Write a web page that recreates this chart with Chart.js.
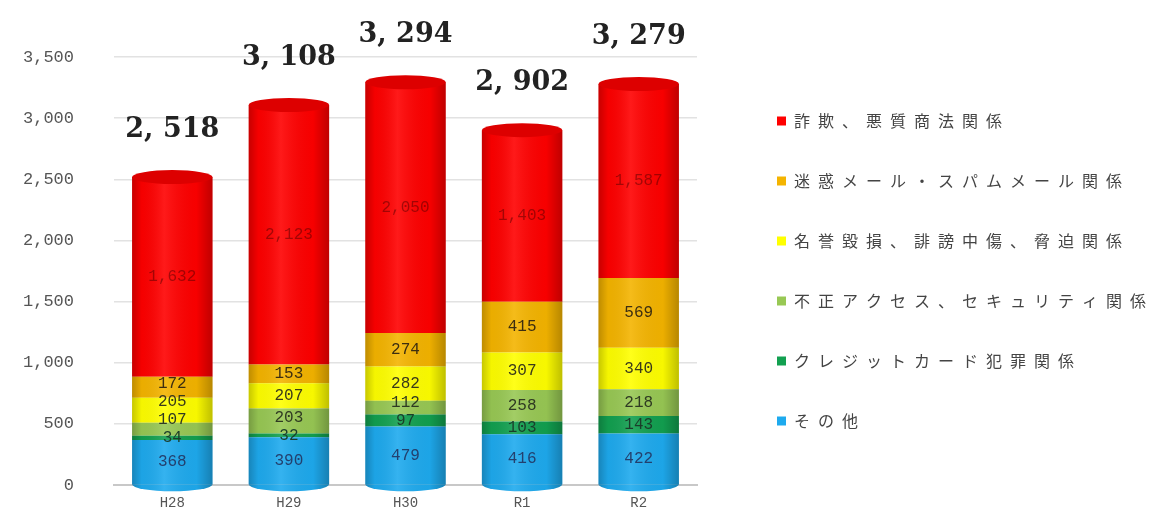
<!DOCTYPE html>
<html>
<head>
<meta charset="utf-8">
<script src="https://cdn.jsdelivr.net/npm/chart.js@4.4.1/dist/chart.umd.min.js"></script>
<style>
  html, body { margin: 0; padding: 0; background: #fff; }
  #wrap { width: 1169px; height: 517px; }
</style>
</head>
<body>
<div id="wrap"><canvas id="chart"></canvas></div>
<script>
// categories and series (bottom to top of each stack)
const years = ['H28', 'H29', 'H30', 'R1', 'R2'];
const sonota  = [368, 390, 479, 416, 422];     // その他
const credit  = [34, 32, 97, 103, 143];        // クレジットカード犯罪関係
const fusei   = [107, 203, 112, 258, 218];     // 不正アクセス、セキュリティ関係
const meiyo   = [205, 207, 282, 307, 340];     // 名誉毀損、誹謗中傷、脅迫関係
const meiwaku = [172, 153, 274, 415, 569];     // 迷惑メール・スパムメール関係
const sagi    = [1632, 2123, 2050, 1403, 1587]; // 詐欺、悪質商法関係
const yTicks  = [0, 500, 1000, 1500, 2000, 2500, 3000, 3500];

const series = [
  { label: 'その他', data: sonota, color: '#1eaaee', text: '#23406e' },
  { label: 'クレジットカード犯罪関係', data: credit, color: '#12a050', text: '#1b3d2a' },
  { label: '不正アクセス、セキュリティ関係', data: fusei, color: '#98c854', text: '#2f3a22' },
  { label: '名誉毀損、誹謗中傷、脅迫関係', data: meiyo, color: '#ffff00', text: '#3a3a1a' },
  { label: '迷惑メール・スパムメール関係', data: meiwaku, color: '#f4b400', text: '#3d2e10' },
  { label: '詐欺、悪質商法関係', data: sagi, color: '#ff0000', text: 'rgba(80,0,0,0.5)' }
];

const totals = years.map((y, i) => series.reduce((s, d) => s + d.data[i], 0));

function fmt(v) {
  return v.toString().replace(/\B(?=(\d{3})+(?!\d))/g, ',');
}

// legend: wide letter spacing like the original, box wide enough for it
const legendStyle = {
  id: 'legendStyle',
  beforeUpdate(chart) {
    const lg = chart.legend;
    if (!lg || lg._styled) return;
    const fit = lg.fit.bind(lg);
    lg.fit = function () {
      fit();
      this.width = 440;
    };
    const draw = lg.draw.bind(lg);
    lg.draw = function () {
      const ctx = chart.ctx;
      ctx.save();
      ctx.translate(36, -16);
      ctx.letterSpacing = '8px';
      draw();
      ctx.restore();
    };
    lg._styled = true;
  }
};

const cylinder = {
  id: 'cylinder',
  afterDatasetsDraw(chart) {
    const ctx = chart.ctx;
    const n = chart.data.datasets.length;
    years.forEach((yr, i) => {
      const bot = chart.getDatasetMeta(0).data[i];
      const top = chart.getDatasetMeta(n - 1).data[i];
      const w = bot.width, left = bot.x - w / 2, rx = w / 2, ry = 7;
      ctx.save();
      // rounded bottom
      ctx.fillStyle = series[0].color;
      ctx.beginPath();
      ctx.ellipse(bot.x, bot.base, rx, ry, 0, 0, Math.PI);
      ctx.fill();
      // side shading
      const g = ctx.createLinearGradient(left, 0, left + w, 0);
      g.addColorStop(0, 'rgba(0,0,0,0.22)');
      g.addColorStop(0.12, 'rgba(0,0,0,0.04)');
      g.addColorStop(0.4, 'rgba(255,255,255,0.10)');
      g.addColorStop(0.8, 'rgba(0,0,0,0.03)');
      g.addColorStop(1, 'rgba(0,0,0,0.25)');
      ctx.fillStyle = g;
      ctx.beginPath();
      ctx.moveTo(left, top.y);
      ctx.lineTo(left, bot.base);
      ctx.ellipse(bot.x, bot.base, rx, ry, 0, Math.PI, 0, true);
      ctx.lineTo(left + w, top.y);
      ctx.closePath();
      ctx.fill();
      // top cap
      ctx.fillStyle = '#dd0000';
      ctx.beginPath();
      ctx.ellipse(top.x, top.y, rx, ry, 0, 0, Math.PI * 2);
      ctx.fill();
      ctx.restore();
    });
  }
};

const labels = {
  id: 'labels',
  afterDatasetsDraw(chart) {
    const ctx = chart.ctx;
    const n = chart.data.datasets.length;
    ctx.save();
    ctx.textAlign = 'center';
    ctx.textBaseline = 'middle';
    years.forEach((yr, i) => {
      // segment values, pushed apart where segments are thin
      let prev = null;
      for (let d = 0; d < n - 1; d++) {
        const el = chart.getDatasetMeta(d).data[i];
        let y = (el.y + el.base) / 2;
        if (prev !== null && y > prev - 18) y = prev - 18;
        prev = y;
        ctx.font = '16px "Liberation Mono"';
        ctx.fillStyle = series[d].text;
        ctx.fillText(fmt(series[d].data[i]), el.x, y);
      }
      const topEl = chart.getDatasetMeta(n - 1).data[i];
      ctx.font = '16px "Liberation Mono"';
      ctx.fillStyle = series[n - 1].text;
      ctx.fillText(fmt(series[n - 1].data[i]), topEl.x, (topEl.y + topEl.base) / 2);
      // total above the cylinder
      ctx.font = 'bold 27px "DejaVu Serif"';
      ctx.fillStyle = '#222';
      ctx.fillText(fmt(totals[i]).replace(',', ', '), topEl.x, topEl.y - 47);
    });
    ctx.restore();
  }
};

new Chart(document.getElementById('chart'), {
  type: 'bar',
  data: {
    labels: years,
    datasets: series.map(s => ({
      label: s.label,
      data: s.data,
      backgroundColor: s.color,
      borderWidth: 0,
      barPercentage: 0.69,
      categoryPercentage: 1
    }))
  },
  options: {
    responsive: true,
    maintainAspectRatio: false,
    animation: false,
    layout: { padding: { top: 57, left: 0, right: 32, bottom: 0 } },
    plugins: {
      tooltip: { enabled: false },
      legend: {
        position: 'right',
        reverse: true,
        labels: {
          boxWidth: 9,
          boxHeight: 9,
          padding: 44,
          color: '#444',
          font: { size: 16, family: '"Noto Sans CJK JP"' }
        }
      }
    },
    scales: {
      x: {
        stacked: true,
        grid: { display: false, drawTicks: false },
        border: { color: '#c8c8c8', width: 2 },
        afterFit: scale => { scale.height = 32; },
        ticks: { color: '#555', padding: 10, font: { size: 14, family: '"Liberation Mono"' } }
      },
      y: {
        stacked: true,
        min: 0,
        max: 3500,
        afterBuildTicks: axis => { axis.ticks = yTicks.map(v => ({ value: v })); },
        afterFit: scale => {
          scale.width = 114;
          scale.paddingTop = 10;
          scale.paddingBottom = 10;
        },
        grid: { color: '#e2e2e2', lineWidth: 1.5, drawTicks: false },
        border: { display: false },
        ticks: {
          color: '#555',
          padding: 40,
          font: { size: 17, family: '"Liberation Mono"' },
          callback: v => fmt(v)
        }
      }
    }
  },
  plugins: [legendStyle, cylinder, labels]
});
</script>
</body>
</html>
